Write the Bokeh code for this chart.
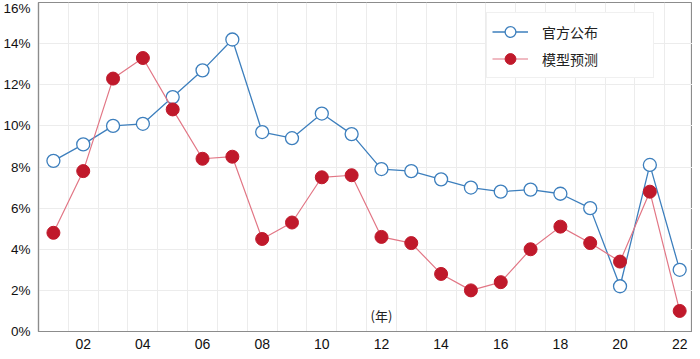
from bokeh.plotting import figure
from bokeh.models import FixedTicker, PrintfTickFormatter, Legend, LegendItem, Label, Range1d, ColumnDataSource
from bokeh.embed import file_html
from bokeh.resources import INLINE

years = list(range(2001, 2023))
official = [8.3, 9.1, 10.0, 10.1, 11.4, 12.7, 14.2, 9.7, 9.4, 10.6, 9.6, 7.9, 7.8, 7.4, 7.0, 6.8, 6.9, 6.7, 6.0, 2.2, 8.1, 3.0]
model = [4.8, 7.8, 12.3, 13.3, 10.8, 8.4, 8.5, 4.5, 5.3, 7.5, 7.6, 4.6, 4.3, 2.8, 2.0, 2.4, 4.0, 5.1, 4.3, 3.4, 6.8, 1.0]
x_ticks = list(range(2002, 2023, 2))
x_labels = ["02", "04", "06", "08", "10", "12", "14", "16", "18", "20", "22"]
y_ticks = [0, 2, 4, 6, 8, 10, 12, 14, 16]
series_names = ["官方公布", "模型预测"]
unit_label = "(年)"

BLUE = "#3d7fbd"
RED = "#c0192b"
RED_LINE = "#e27685"
FONT = "Liberation Sans"
CJK = "Noto Sans CJK SC"

src = ColumnDataSource(dict(year=years, official=official, model=model))

p = figure(width=692, height=351, output_backend="svg", toolbar_location=None,
           x_range=Range1d(2000.5, 2022.43), y_range=Range1d(0, 16),
           min_border_left=0, min_border_right=0, min_border_top=2, min_border_bottom=0)
p.background_fill_color = "white"
p.border_fill_color = "white"
p.outline_line_color = "#8c8c8c"
p.outline_line_width = 1.2

# grids
p.xgrid.ticker = FixedTicker(ticks=[y + 0.5 for y in years[:-1]])
p.xgrid.grid_line_color = "#ececec"
p.ygrid.ticker = FixedTicker(ticks=y_ticks)
p.ygrid.grid_line_color = "#ececec"

# axes
p.xaxis.ticker = FixedTicker(ticks=x_ticks)
p.xaxis.major_label_overrides = {t: l for t, l in zip(x_ticks, x_labels)}
p.yaxis.ticker = FixedTicker(ticks=y_ticks)
p.yaxis.formatter = PrintfTickFormatter(format="%d%%")
for ax in (p.xaxis[0], p.yaxis[0]):
    ax.axis_line_color = "#8c8c8c"
    ax.axis_line_width = 1.2
    ax.major_tick_line_color = None
    ax.minor_tick_line_color = None
    ax.major_tick_out = 0
    ax.major_tick_in = 0
    ax.minor_tick_out = 0
    ax.minor_tick_in = 0
    ax.major_label_text_font = FONT
    ax.major_label_text_color = "#111111"
p.xaxis.major_label_text_font_size = "14px"
p.yaxis.major_label_text_font_size = "13.5px"
p.xaxis.major_label_standoff = 7
p.yaxis.major_label_standoff = 8

l1 = p.line("year", "official", source=src, line_color=BLUE, line_width=1.3)
c1 = p.scatter("year", "official", source=src, size=13, fill_color="white",
               line_color=BLUE, line_width=1.3)
l2 = p.line("year", "model", source=src, line_color=RED_LINE, line_width=1.2)
c2 = p.scatter("year", "model", source=src, size=13, fill_color=RED,
               line_color=RED, line_width=1)

legend = Legend(items=[LegendItem(label=series_names[0], renderers=[l1, c1]),
                       LegendItem(label=series_names[1], renderers=[l2, c2])])
legend.label_text_font = CJK
legend.label_text_font_size = "14px"
legend.label_text_color = "#222222"
legend.border_line_color = "#e2e2e2"
legend.background_fill_color = "white"
legend.background_fill_alpha = 1
legend.glyph_width = 36
legend.glyph_height = 27
legend.spacing = 0
legend.padding = 5
legend.margin = 0
legend.label_standoff = 14
legend.label_width = 106
legend.location = (448, 253)
p.add_layout(legend)

lab = Label(x=2012, y=0.8, text=unit_label, text_font=CJK, text_font_size="13px",
            text_align="center", text_baseline="middle", text_color="#222222")
p.add_layout(lab)

open("out.html", "w").write(file_html(p, INLINE))
